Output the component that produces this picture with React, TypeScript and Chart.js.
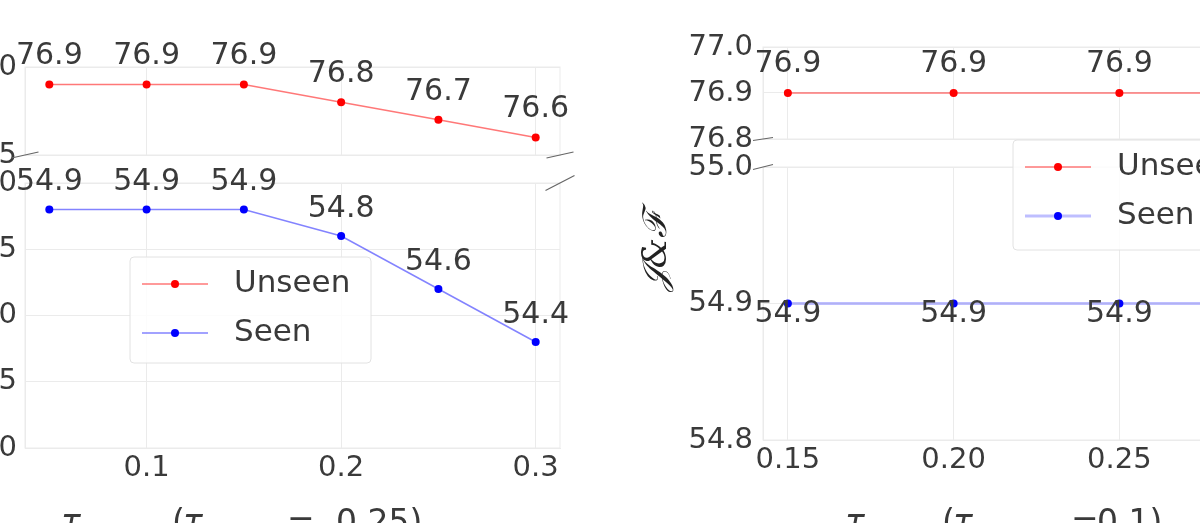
import { useEffect, useRef } from "react"
import { Chart, registerables, type ChartConfiguration, type Plugin } from "chart.js"

Chart.register(...registerables)

// left figure: sweep of the first threshold, second fixed at 0.25
const leftTau = [0.05, 0.1, 0.15, 0.2, 0.25, 0.3]
const leftUnseen = [76.9, 76.9, 76.9, 76.8, 76.7, 76.6]
const leftSeen = [54.9, 54.9, 54.9, 54.8, 54.6, 54.4]
const leftXTicks = [0.1, 0.2, 0.3]
const leftUpperTicks = [76.5, 77.0]
const leftLowerTicks = [54.0, 54.25, 54.5, 54.75, 55.0]

// right figure: sweep of the second threshold, first fixed at 0.1
const rightTau = [0.15, 0.2, 0.25, 0.3]
const rightUnseen = [76.9, 76.9, 76.9, 76.9]
const rightSeen = [54.9, 54.9, 54.9, 54.9]
const rightXTicks = [0.15, 0.2, 0.25, 0.3]
const rightUpperTicks = [76.8, 76.9, 77.0]
const rightLowerTicks = [54.8, 54.9, 55.0]

const seriesNames = ["Unseen", "Seen"]

const FONT = "DejaVu Sans"
const TEXT = "#3a3a3a"
const GRID = "#ebebeb"
const RED_LINE = "rgba(255, 30, 30, 0.6)"
const BLUE_LINE = "rgba(30, 30, 255, 0.55)"
const BLUE_WIDE = "rgba(70, 70, 255, 0.35)"
const CW = 1400
const CH = 600

interface TextItem {
  text: string
  x: number
  y: number
  size: number
  italic?: boolean
  family?: string
  rotate?: boolean
}

interface PanelSpec {
  id: string
  area: { l: number; r: number; t: number; b: number }
  xs: number[]
  unseen: number[]
  seen: number[]
  xMin: number
  xMax: number
  xTicks: number[]
  xDecimals: number | null
  yMin: number
  yMax: number
  yTicks: number[]
  yDecimals: number
  yPad: number
  labelOffset: number
  seenWidth: number
  seenColor: string
  breaks: string[]
  mark: [number, number]
  legend?: { x: number; y: number; w: number; h: number }
  texts?: TextItem[]
}

const SUB = 8
const BASE = 533

const panels: PanelSpec[] = [
  {
    id: "left-upper",
    area: { l: 25, r: 560, t: 67, b: 155 },
    xs: leftTau, unseen: leftUnseen, seen: leftSeen,
    xMin: 0.0375, xMax: 0.3125, xTicks: leftXTicks, xDecimals: null,
    yMin: 76.5, yMax: 77.0, yTicks: leftUpperTicks, yDecimals: 1, yPad: 8,
    labelOffset: -28, seenWidth: 1.5, seenColor: BLUE_LINE,
    breaks: ["bl", "br"], mark: [13.5, 3],
  },
  {
    id: "left-lower",
    area: { l: 25, r: 560, t: 183, b: 448 },
    xs: leftTau, unseen: leftUnseen, seen: leftSeen,
    xMin: 0.0375, xMax: 0.3125, xTicks: leftXTicks, xDecimals: 1,
    yMin: 54.0, yMax: 55.0, yTicks: leftLowerTicks, yDecimals: 2, yPad: 8,
    labelOffset: -27, seenWidth: 1.5, seenColor: BLUE_LINE,
    breaks: ["tr"], mark: [14.5, 7.5],
    legend: { x: 130, y: 257, w: 241, h: 106 },
    texts: [
      { text: "τ", x: 61, y: BASE, size: 33, italic: true },
      { text: "high", x: 79, y: BASE + SUB, size: 23, italic: true },
      { text: "(", x: 172, y: BASE, size: 33 },
      { text: "τ", x: 183, y: BASE, size: 33, italic: true },
      { text: "low", x: 201, y: BASE + SUB, size: 23, italic: true },
      { text: "=", x: 287, y: BASE, size: 33 },
      { text: "0.25)", x: 336, y: BASE, size: 33 },
    ],
  },
  {
    id: "right-upper",
    area: { l: 763, r: 1310, t: 47, b: 139 },
    xs: rightTau, unseen: rightUnseen, seen: rightSeen,
    xMin: 0.1425, xMax: 0.3075, xTicks: rightXTicks, xDecimals: null,
    yMin: 76.8, yMax: 77.0, yTicks: rightUpperTicks, yDecimals: 1, yPad: 10,
    labelOffset: -29, seenWidth: 3, seenColor: BLUE_WIDE,
    breaks: ["bl"], mark: [10, 1.5],
  },
  {
    id: "right-lower",
    area: { l: 763, r: 1310, t: 167, b: 440 },
    xs: rightTau, unseen: rightUnseen, seen: rightSeen,
    xMin: 0.1425, xMax: 0.3075, xTicks: rightXTicks, xDecimals: 2,
    yMin: 54.8, yMax: 55.0, yTicks: rightLowerTicks, yDecimals: 1, yPad: 10,
    labelOffset: 11, seenWidth: 3, seenColor: BLUE_WIDE,
    breaks: ["tl"], mark: [10, 2.5],
    legend: { x: 1013, y: 140, w: 245, h: 110 },
    texts: [
      { text: "𝒥&ℱ", x: 657, y: 252, size: 34, italic: true, family: "DejaVu Serif", rotate: true },
      { text: "τ", x: 845, y: BASE, size: 33, italic: true },
      { text: "low", x: 863, y: BASE + SUB, size: 23, italic: true },
      { text: "(", x: 942, y: BASE, size: 33 },
      { text: "τ", x: 953, y: BASE, size: 33, italic: true },
      { text: "high", x: 971, y: BASE + SUB, size: 23, italic: true },
      { text: "=", x: 1071, y: BASE, size: 33 },
      { text: "0.1)", x: 1097, y: BASE, size: 33 },
    ],
  },
]

// value written above (or below) each visible point
const pointLabels: Plugin = {
  id: "pointLabels",
  afterDatasetsDraw(chart, _args, opts: any) {
    const { ctx } = chart
    const ys = chart.scales.y
    ctx.save()
    ctx.font = `30px "${FONT}"`
    ctx.fillStyle = TEXT
    ctx.textAlign = "center"
    ctx.textBaseline = "middle"
    chart.data.datasets.forEach((ds: any, i) => {
      const meta = chart.getDatasetMeta(i)
      meta.data.forEach((pt: any, j) => {
        const v = ds.data[j].y
        if (v < ys.min - 1e-9 || v > ys.max + 1e-9) return
        ctx.fillText(v.toFixed(1), pt.x, pt.y + opts.offset)
      })
    })
    ctx.restore()
  },
}

// light frame round the plot area and the // marks of the axis break
const frame: Plugin = {
  id: "frame",
  beforeDatasetsDraw(chart, _args, opts: any) {
    const { ctx, chartArea: a } = chart
    ctx.save()
    ctx.strokeStyle = GRID
    ctx.lineWidth = 1
    ctx.strokeRect(a.left, a.top, a.right - a.left, a.bottom - a.top)
    ctx.strokeStyle = "#666"
    ctx.lineWidth = 1.2
    const [dx, dy] = opts.mark
    for (const c of opts.breaks as string[]) {
      const cx = c[1] === "l" ? a.left : a.right
      const cy = c[0] === "t" ? a.top : a.bottom
      ctx.beginPath()
      ctx.moveTo(cx - dx, cy + dy)
      ctx.lineTo(cx + dx, cy - dy)
      ctx.stroke()
    }
    ctx.restore()
  },
}

const boxLegend: Plugin = {
  id: "boxLegend",
  afterDraw(chart, _args, o: any) {
    const { ctx } = chart
    ctx.save()
    ctx.beginPath()
    ctx.roundRect(o.x, o.y, o.w, o.h, 4)
    ctx.fillStyle = "rgba(255,255,255,0.85)"
    ctx.fill()
    ctx.strokeStyle = "#e2e2e2"
    ctx.lineWidth = 1
    ctx.stroke()
    ctx.font = `31px "${FONT}"`
    ctx.textBaseline = "middle"
    ctx.textAlign = "left"
    chart.data.datasets.forEach((ds: any, i) => {
      const cy = o.y + 27 + i * 49
      ctx.strokeStyle = ds.borderColor
      ctx.lineWidth = ds.borderWidth
      ctx.beginPath()
      ctx.moveTo(o.x + 12, cy)
      ctx.lineTo(o.x + 78, cy)
      ctx.stroke()
      ctx.fillStyle = ds.pointBackgroundColor
      ctx.beginPath()
      ctx.arc(o.x + 45, cy, 4, 0, Math.PI * 2)
      ctx.fill()
      ctx.fillStyle = TEXT
      ctx.fillText(ds.label, o.x + 104, cy)
    })
    ctx.restore()
  },
}

const figText: Plugin = {
  id: "figText",
  afterDraw(chart, _args, o: any) {
    const { ctx } = chart
    ctx.save()
    ctx.fillStyle = TEXT
    for (const t of o.items as TextItem[]) {
      ctx.font = `${t.italic ? "italic " : ""}${t.size}px "${t.family ?? FONT}"`
      if (t.rotate) {
        ctx.save()
        ctx.translate(t.x, t.y)
        ctx.rotate(-Math.PI / 2)
        ctx.textAlign = "center"
        ctx.textBaseline = "middle"
        ctx.fillStyle = "#222"
        ctx.fillText(t.text, 0, 0)
        ctx.restore()
      } else {
        ctx.textAlign = "left"
        ctx.textBaseline = "alphabetic"
        ctx.fillText(t.text, t.x, t.y)
      }
    }
    ctx.restore()
  },
}

function buildConfig(p: PanelSpec): ChartConfiguration {
  // y axis box reaches the canvas edge so its labels are never clipped
  const yw = p.area.l
  const xh = p.xDecimals == null ? 0 : 44
  const font = { family: FONT, size: 29 }
  return {
    type: "line",
    data: {
      datasets: [
        {
          label: seriesNames[0],
          data: p.xs.map((x, i) => ({ x, y: p.unseen[i] })),
          borderColor: RED_LINE,
          backgroundColor: RED_LINE,
          pointBackgroundColor: "#ff0000",
          pointBorderWidth: 0,
          pointRadius: 4,
          borderWidth: 1.5,
          tension: 0,
        },
        {
          label: seriesNames[1],
          data: p.xs.map((x, i) => ({ x, y: p.seen[i] })),
          borderColor: p.seenColor,
          backgroundColor: p.seenColor,
          pointBackgroundColor: "#0000ff",
          pointBorderWidth: 0,
          pointRadius: 4,
          borderWidth: p.seenWidth,
          tension: 0,
        },
      ],
    },
    options: {
      responsive: false,
      animation: false,
      events: [],
      layout: {
        padding: { left: p.area.l - yw, right: CW - p.area.r, top: p.area.t, bottom: CH - p.area.b - xh },
      },
      scales: {
        x: {
          type: "linear",
          min: p.xMin,
          max: p.xMax,
          afterBuildTicks: (s: any) => {
            s.ticks = p.xTicks.map((v) => ({ value: v }))
          },
          afterFit: (s: any) => {
            s.height = xh
          },
          grid: { color: GRID, drawTicks: false },
          border: { color: GRID },
          ticks: {
            display: p.xDecimals != null,
            padding: 3,
            autoSkip: false,
            maxRotation: 0,
            font,
            color: TEXT,
            callback: (v: any) => Number(v).toFixed(p.xDecimals ?? 1),
          },
        },
        y: {
          type: "linear",
          min: p.yMin,
          max: p.yMax,
          afterBuildTicks: (s: any) => {
            s.ticks = p.yTicks.map((v) => ({ value: v }))
          },
          afterFit: (s: any) => {
            s.width = yw
          },
          grid: { color: GRID, drawTicks: false },
          border: { color: GRID },
          ticks: {
            padding: p.yPad,
            autoSkip: false,
            font,
            color: TEXT,
            callback: (v: any) => Number(v).toFixed(p.yDecimals),
          },
        },
      },
      plugins: {
        legend: { display: false },
        tooltip: { enabled: false },
        pointLabels: { offset: p.labelOffset },
        frame: { breaks: p.breaks, mark: p.mark },
        boxLegend: p.legend ?? false,
        figText: { items: p.texts ?? [] },
      } as any,
    },
    plugins: [frame, pointLabels, boxLegend, figText],
  } as ChartConfiguration
}

function Panel({ panel }: { panel: PanelSpec }) {
  const canvasRef = useRef<HTMLCanvasElement>(null)

  useEffect(() => {
    if (!canvasRef.current) return
    const chart = new Chart(canvasRef.current, buildConfig(panel))
    return () => chart.destroy()
  }, [panel])

  return (
    <canvas
      ref={canvasRef}
      width={CW}
      height={CH}
      style={{ position: "absolute", left: 0, top: 0, width: CW, height: CH }}
    />
  )
}

export default function App() {
  return (
    <div
      style={{
        position: "fixed",
        left: 0,
        top: 0,
        width: 1200,
        height: 523,
        overflow: "hidden",
        background: "#fff",
      }}
    >
      {panels.map((p) => (
        <Panel key={p.id} panel={p} />
      ))}
    </div>
  )
}
